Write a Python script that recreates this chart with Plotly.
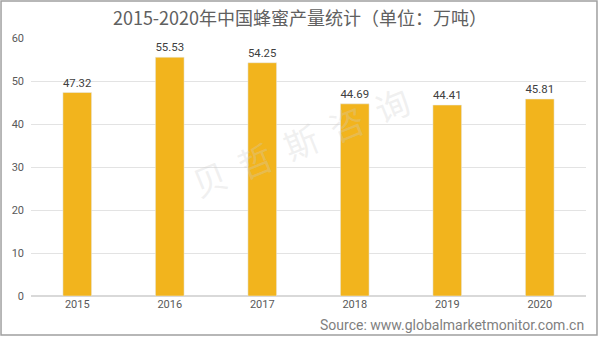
import plotly.graph_objects as go

years = ["2015", "2016", "2017", "2018", "2019", "2020"]
production = [47.32, 55.53, 54.25, 44.69, 44.41, 45.81]
labels = ["47.32", "55.53", "54.25", "44.69", "44.41", "45.81"]

fig = go.Figure()
fig.add_trace(go.Bar(
    x=years, y=production, text=labels, textposition="outside",
    marker=dict(color="#F2B41D"), width=0.31,
    textfont=dict(family="Roboto, Arial", size=12, color="#404040"),
    cliponaxis=False,
))

fig.update_layout(
    width=600, height=337,
    margin=dict(l=31, r=14, t=38, b=41),
    paper_bgcolor="white", plot_bgcolor="white",
    showlegend=False,
    title=dict(text="2015-2020年中国蜂蜜产量统计（单位：万吨）", x=0.5, xanchor="center",
               y=0.945, yanchor="middle",
               font=dict(family="Noto Sans CJK SC", size=18, color="#606060")),
    xaxis=dict(type="category", showline=False, ticks="", tickfont=dict(family="Roboto, Arial", size=11, color="#595959")),
    yaxis=dict(range=[0, 60], dtick=10, showgrid=True, gridcolor="#E3E3E3", gridwidth=1,
               zeroline=True, zerolinecolor="#D9D9D9", ticks="", ticklabelstandoff=6,
               tickfont=dict(family="Roboto, Arial", size=11, color="#595959")),
    font=dict(family="Roboto, Arial"),
)

fig.add_annotation(text="贝  哲  斯  咨  询", xref="paper", yref="paper", x=0.485, y=0.60,
                   showarrow=False, textangle=-22,
                   font=dict(family="Noto Sans CJK SC", size=34, color="rgba(205,205,205,0.3)"))

fig.add_annotation(text="Source: www.globalmarketmonitor.com.cn", xref="paper", yref="paper",
                   x=1.0, y=-0.112, xanchor="right", yanchor="middle", showarrow=False,
                   font=dict(family="Roboto, Arial", size=14, color="#7F7F7F"))

fig.add_shape(type="rect", xref="paper", yref="paper", x0=-0.054, y0=-0.151, x1=1.0198, y1=1.143,
              line=dict(color="#A0A0A0", width=1.5))

fig.write_html("out.html")
